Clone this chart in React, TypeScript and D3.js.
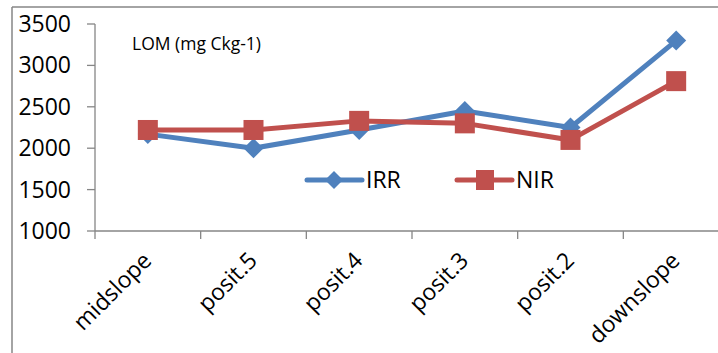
import React from "react";
import * as d3 from "d3";

const categories = ["midslope", "posit.5", "posit.4", "posit.3", "posit.2", "downslope"];
const irr = [2170, 2000, 2220, 2450, 2250, 3300];
const nir = [2220, 2220, 2330, 2300, 2100, 2810];
const yTicks = [1000, 1500, 2000, 2500, 3000, 3500];
const seriesNames = ["IRR", "NIR"];
const chartTitle = "LOM (mg Ckg-1)";

const W = 718;
const H = 353;
const FONT = "'Open Sans', 'DejaVu Sans', sans-serif";
const BLUE = "#4F81BD";
const RED = "#C0504D";
const AXIS = "#868686";

export default function App() {
  const x = d3.scaleBand<string>().domain(categories).range([95, 729]);
  const y = d3.scaleLinear().domain([1000, 3500]).range([231, 24]);
  const cx = (c: string) => (x(c) as number) + x.bandwidth() / 2;
  const line = d3
    .line<number>()
    .x((_, i) => cx(categories[i]))
    .y((d) => y(d));

  const diamond = (px: number, py: number, r: number) =>
    `M${px},${py - r}L${px + r},${py}L${px},${py + r}L${px - r},${py}Z`;

  const boundaries = d3.range(categories.length).map((i) => 95 + i * x.bandwidth());

  return (
    <svg
      width={W}
      height={H}
      style={{ position: "absolute", left: 0, top: 0, background: "#fff" }}
      fontFamily={FONT}
    >
      <rect x={0} y={0} width={W} height={H} fill="#fff" />
      {/* outer frame */}
      <line x1={12} y1={7} x2={W} y2={7} stroke={AXIS} strokeWidth={1.5} />
      <line x1={12} y1={7} x2={12} y2={H} stroke={AXIS} strokeWidth={1.5} />

      {/* y axis */}
      <line x1={95} y1={y(3500)} x2={95} y2={y(1000)} stroke={AXIS} strokeWidth={1.3} />
      {yTicks.map((t) => (
        <g key={t}>
          <line x1={87} x2={95} y1={y(t)} y2={y(t)} stroke={AXIS} strokeWidth={1.3} />
          <text x={71} y={y(t)} dy="0.35em" textAnchor="end" fontSize={23} fill="#000">
            {t}
          </text>
        </g>
      ))}

      {/* x axis */}
      <line x1={95} y1={y(1000)} x2={W} y2={y(1000)} stroke={AXIS} strokeWidth={1.3} />
      {boundaries.map((b, i) => (
        <line key={i} x1={b} x2={b} y1={y(1000)} y2={y(1000) + 8} stroke={AXIS} strokeWidth={1.3} />
      ))}
      {categories.map((c) => (
        <text
          key={c}
          transform={`translate(${cx(c) + 5},${y(1000) + 31}) rotate(-45)`}
          textAnchor="end"
          fontSize={23}
          fill="#000"
        >
          {c}
        </text>
      ))}

      {/* title */}
      <text x={132} y={50} fontSize={17.5} fill="#000">
        {chartTitle}
      </text>

      {/* series */}
      <path d={line(irr) || ""} fill="none" stroke={BLUE} strokeWidth={5} strokeLinejoin="round" />
      {irr.map((v, i) => (
        <path key={i} d={diamond(cx(categories[i]), y(v), 10)} fill={BLUE} />
      ))}
      <path d={line(nir) || ""} fill="none" stroke={RED} strokeWidth={5} strokeLinejoin="round" />
      {nir.map((v, i) => (
        <rect key={i} x={cx(categories[i]) - 10} y={y(v) - 10} width={20} height={20} fill={RED} />
      ))}

      {/* legend */}
      <g>
        <line x1={307} x2={362} y1={180} y2={180} stroke={BLUE} strokeWidth={5} strokeLinecap="round" />
        <path d={diamond(334, 180, 9)} fill={BLUE} />
        <text x={366} y={180} dy="0.35em" fontSize={23} fill="#000">
          {seriesNames[0]}
        </text>
        <line x1={457} x2={512} y1={180} y2={180} stroke={RED} strokeWidth={5} strokeLinecap="round" />
        <rect x={476} y={170} width={18} height={20} fill={RED} />
        <text x={516} y={180} dy="0.35em" fontSize={23} fill="#000">
          {seriesNames[1]}
        </text>
      </g>
    </svg>
  );
}
